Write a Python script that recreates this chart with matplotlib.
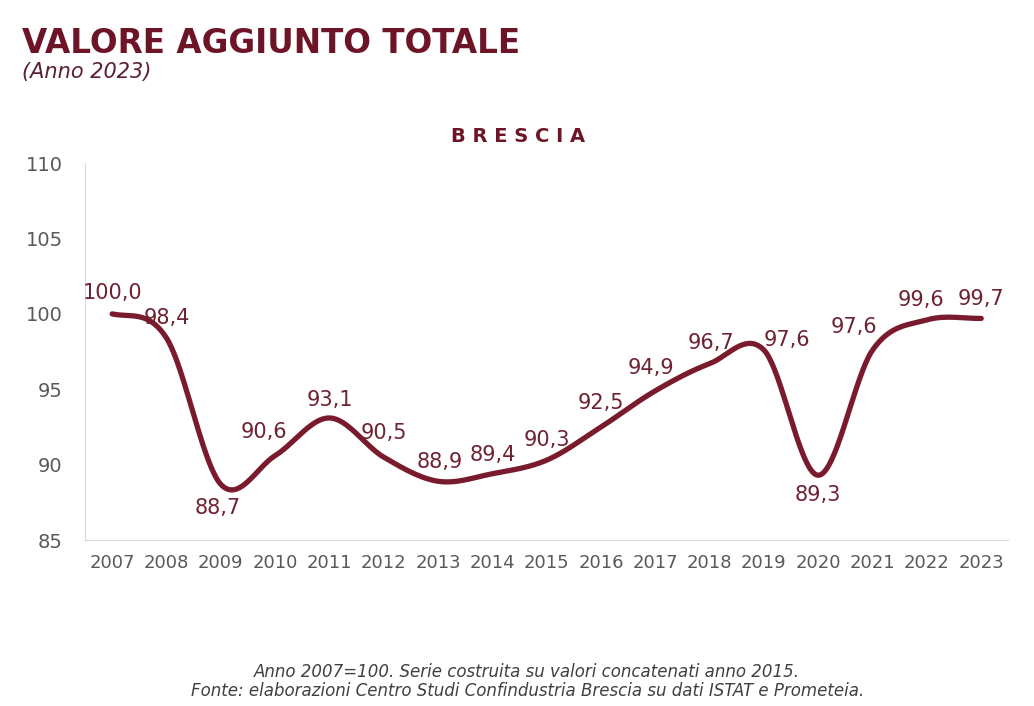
import numpy as np
import matplotlib
matplotlib.use("Agg")
import matplotlib.pyplot as plt

# dati (Anno 2007 = 100)
anni = ["2007", "2008", "2009", "2010", "2011", "2012", "2013", "2014", "2015",
        "2016", "2017", "2018", "2019", "2020", "2021", "2022", "2023"]
valori = [100.0, 98.4, 88.7, 90.6, 93.1, 90.5, 88.9, 89.4, 90.3,
          92.5, 94.9, 96.7, 97.6, 89.3, 97.6, 99.6, 99.7]
etichette = ["100,0", "98,4", "88,7", "90,6", "93,1", "90,5", "88,9", "89,4", "90,3",
             "92,5", "94,9", "96,7", "97,6", "89,3", "97,6", "99,6", "99,7"]
# spostamento etichette in pixel (dx, dy)
offset = [(0, 21), (0, 20), (-3, -24), (-11, 24), (0, 18), (0, 24), (2, 19), (0, 19), (0, 20),
          (0, 24), (-4, 23), (1, 21), (23, 10), (0, -20), (-19, 23), (-6, 20), (0, 19)]

ROSSO = "#7a1b2d"
GRIGIO = "#595959"

plt.rcParams['font.family'] = ['DejaVu Sans']


def curva_smussata(y, n=40):
    # linea smussata tipo Excel (Catmull-Rom)
    p = np.array(y, dtype=float)
    p_ext = np.concatenate([[p[0]], p, [p[-1]]])
    xs, ys = [], []
    for i in range(len(p) - 1):
        p0, p1, p2, p3 = p_ext[i], p_ext[i + 1], p_ext[i + 2], p_ext[i + 3]
        t = np.linspace(0, 1, n, endpoint=False)
        c1 = p1 + (p2 - p0) / 6
        c2 = p2 - (p3 - p1) / 6
        yy = (1 - t) ** 3 * p1 + 3 * (1 - t) ** 2 * t * c1 + 3 * (1 - t) * t ** 2 * c2 + t ** 3 * p2
        xs.append(i + t)
        ys.append(yy)
    xs.append([len(p) - 1])
    ys.append([p[-1]])
    return np.concatenate(xs), np.concatenate(ys)


fig = plt.figure(figsize=(10.34, 7.06), dpi=100)
ax = fig.add_axes([0.0822, 0.235, 0.893, 0.534])

x = np.arange(len(anni))
xs, ys = curva_smussata(valori)
ax.plot(xs, ys, color=ROSSO, lw=3.8, solid_capstyle='round')

for i, (v, lab) in enumerate(zip(valori, etichette)):
    ax.annotate(lab, (x[i], v), xytext=offset[i], textcoords='offset pixels',
                ha='center', va='center', fontsize=15, color="#6e2232")

ax.set_xlim(-0.5, len(anni) - 0.5)
ax.set_ylim(85, 110)
ax.set_yticks([85, 90, 95, 100, 105, 110])
ax.set_xticks(x)
ax.set_xticklabels(anni)
ax.tick_params(axis='both', length=0, colors=GRIGIO, labelsize=13)
ax.tick_params(axis='y', pad=16, labelsize=14)
ax.tick_params(axis='x', pad=10)

for s in ['top', 'right']:
    ax.spines[s].set_visible(False)
ax.spines['left'].set_color("#d9d9d9")
ax.spines['bottom'].set_color("#d9d9d9")

fig.text(0.021, 0.925, "VALORE AGGIUNTO TOTALE", fontsize=23.5, fontweight='bold',
         color="#6e1427", ha='left', va='baseline')
fig.text(0.021, 0.898, "(Anno 2023)", fontsize=15, style='italic',
         color="#5a2030", ha='left', va='center')
fig.text(0.501, 0.806, "B R E S C I A", fontsize=14, fontweight='bold',
         color="#6e1427", ha='center', va='center')

fig.text(0.51, 0.035, "Anno 2007=100. Serie costruita su valori concatenati anno 2015.\n"
         "Fonte: elaborazioni Centro Studi Confindustria Brescia su dati ISTAT e Prometeia.",
         fontsize=12, style='italic', color="#404040", ha='center', va='center',
         linespacing=1.05)

fig.savefig("out.png", dpi=100)
